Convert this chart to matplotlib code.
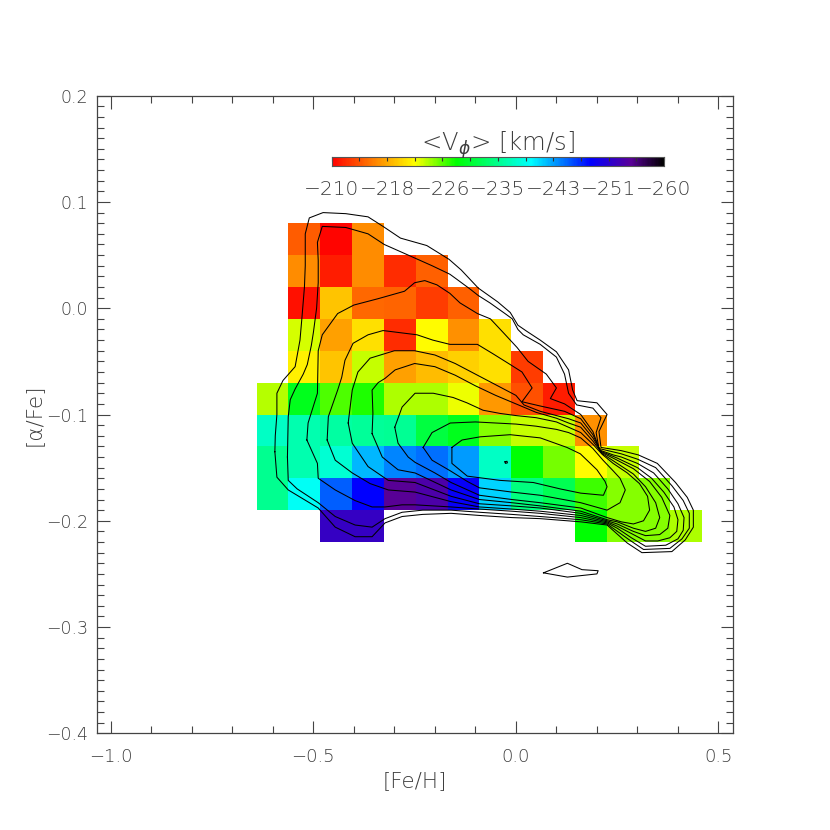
import numpy as np
import matplotlib
matplotlib.use("Agg")
import matplotlib.pyplot as plt
from matplotlib.colors import LinearSegmentedColormap, Normalize
from matplotlib.ticker import MultipleLocator, FuncFormatter

# ---------------- data ----------------
feh_edges = np.linspace(-0.64, 0.46, 15)      # [Fe/H] bin edges
afe_edges = np.linspace(-0.22, 0.08, 11)      # [alpha/Fe] bin edges
nan = np.nan
# mean V_phi per cell, rows listed from top ([a/Fe] 0.05..0.08) to bottom
vphi_rows = [
    [nan, -214.5, -210.3, -217.0, nan, nan, nan, nan, nan, nan, nan, nan, nan, nan],
    [nan, -217.0, -211.5, -217.0, -212.3, -214.7, nan, nan, nan, nan, nan, nan, nan, nan],
    [nan, -210.8, -219.7, -215.2, -215.0, -213.0, -214.7, nan, nan, nan, nan, nan, nan, nan],
    [nan, -223.6, -218.0, -221.0, -212.3, -222.5, -217.2, -221.0, nan, nan, nan, nan, nan, nan],
    [nan, -221.8, -219.7, -224.0, -218.0, -219.3, -220.3, -221.0, -213.0, nan, nan, nan, nan, nan],
    [-224.3, -230.0, -226.8, -228.0, -224.6, -224.5, -223.0, -217.5, -214.0, -211.5, nan, nan, nan, nan],
    [-237.5, -236.5, -235.8, -235.5, -235.2, -231.6, -230.0, -225.6, -224.0, -224.0, -217.2, nan, nan, nan],
    [-235.1, -236.5, -238.0, -242.5, -244.2, -245.0, -243.4, -237.5, -228.8, -226.0, -222.5, -224.0, nan, nan],
    [-235.1, -239.5, -245.6, -249.0, -255.0, -254.0, -249.3, -241.5, -234.4, -232.4, -227.2, -225.6, -225.6, nan],
    [nan, nan, -252.5, -252.5, nan, nan, nan, nan, nan, nan, -228.8, -225.6, -225.6, -224.6],
]

cbar_ticks = [-210, -218, -226, -235, -243, -251, -260]
cbar_labels = ["\u2212210", "\u2212218", "\u2212226", "\u2212235", "\u2212243", "\u2212251", "\u2212260"]

# star-density contour lines ([Fe/H], [a/Fe]), outermost first
contour_1 = [(-0.595, -0.135), (-0.594, -0.120), (-0.590, -0.100), (-0.590, -0.080), (-0.575, -0.068),
             (-0.545, -0.055), (-0.533, -0.030), (-0.528, -0.008), (-0.522, 0.020), (-0.520, 0.040),
             (-0.520, 0.070), (-0.510, 0.085), (-0.476, 0.090), (-0.420, 0.089), (-0.365, 0.086),
             (-0.328, 0.077), (-0.285, 0.066), (-0.220, 0.059), (-0.165, 0.046), (-0.135, 0.036),
             (-0.093, 0.019), (-0.045, 0.006), (-0.014, -0.004), (0.005, -0.016), (0.028, -0.022),
             (0.060, -0.030), (0.100, -0.041), (0.130, -0.058), (0.140, -0.077), (0.151, -0.087),
             (0.200, -0.089), (0.225, -0.100), (0.205, -0.116), (0.210, -0.131), (0.260, -0.134),
             (0.302, -0.138), (0.349, -0.146), (0.394, -0.164), (0.423, -0.178), (0.438, -0.190),
             (0.438, -0.206), (0.418, -0.218), (0.385, -0.229), (0.311, -0.230), (0.275, -0.221),
             (0.225, -0.204), (0.160, -0.201), (0.060, -0.198), (-0.010, -0.197), (-0.090, -0.195),
             (-0.160, -0.193), (-0.230, -0.194), (-0.281, -0.196), (-0.323, -0.202), (-0.355, -0.215),
             (-0.397, -0.215), (-0.446, -0.206), (-0.488, -0.188), (-0.562, -0.171), (-0.590, -0.159)]
contour_1_island = [(0.068, -0.249), (0.127, -0.240), (0.163, -0.246), (0.203, -0.247),
                    (0.200, -0.250), (0.127, -0.253)]
contour_2 = [(-0.564, -0.140), (-0.563, -0.120), (-0.562, -0.102), (-0.557, -0.086), (-0.545, -0.076),
             (-0.525, -0.062), (-0.515, -0.053), (-0.505, -0.035), (-0.500, -0.023), (-0.492, 0.000),
             (-0.488, 0.024), (-0.488, 0.045), (-0.490, 0.062), (-0.478, 0.077), (-0.420, 0.076),
             (-0.365, 0.070), (-0.325, 0.060), (-0.260, 0.049), (-0.207, 0.040), (-0.163, 0.032),
             (-0.145, 0.027), (-0.113, 0.018), (-0.093, 0.012), (-0.064, 0.005), (-0.027, -0.005),
             (-0.009, -0.010), (0.005, -0.020), (0.018, -0.025), (0.060, -0.034), (0.100, -0.046),
             (0.120, -0.062), (0.130, -0.080), (0.150, -0.091), (0.190, -0.094), (0.210, -0.103),
             (0.198, -0.117), (0.205, -0.132), (0.260, -0.137), (0.300, -0.142), (0.345, -0.150),
             (0.385, -0.167), (0.413, -0.181), (0.428, -0.193), (0.428, -0.207), (0.410, -0.217),
             (0.380, -0.226), (0.315, -0.227), (0.280, -0.218), (0.225, -0.203), (0.160, -0.199),
             (0.060, -0.196), (-0.010, -0.194), (-0.090, -0.192), (-0.160, -0.190), (-0.230, -0.190),
             (-0.281, -0.192), (-0.323, -0.198), (-0.355, -0.206), (-0.397, -0.204), (-0.446, -0.196),
             (-0.488, -0.183), (-0.540, -0.170), (-0.562, -0.162)]
contour_3 = [(-0.516, -0.124), (-0.513, -0.108), (-0.490, -0.080), (-0.488, -0.040), (-0.478, -0.025),
             (-0.440, -0.005), (-0.400, 0.003), (-0.340, 0.009), (-0.275, 0.016), (-0.250, 0.024),
             (-0.225, 0.026), (-0.195, 0.022), (-0.163, 0.014), (-0.138, 0.005), (-0.095, -0.005),
             (-0.063, -0.010), (-0.031, -0.023), (0.003, -0.037), (0.030, -0.050), (0.075, -0.062),
             (0.100, -0.075), (0.085, -0.085), (0.120, -0.090), (0.160, -0.100), (0.190, -0.116),
             (0.207, -0.1335), (0.240, -0.138), (0.260, -0.140), (0.300, -0.146), (0.340, -0.155),
             (0.375, -0.170), (0.400, -0.184), (0.415, -0.197), (0.413, -0.209), (0.400, -0.217),
             (0.370, -0.223), (0.320, -0.224), (0.285, -0.216), (0.250, -0.207), (0.225, -0.202),
             (0.160, -0.197), (0.060, -0.193), (-0.010, -0.191), (-0.090, -0.189), (-0.160, -0.187),
             (-0.249, -0.185), (-0.281, -0.185), (-0.323, -0.187), (-0.355, -0.187), (-0.397, -0.181),
             (-0.446, -0.171), (-0.488, -0.160), (-0.490, -0.146)]
contour_4 = [(-0.466, -0.124), (-0.463, -0.102), (-0.440, -0.077), (-0.430, -0.065), (-0.422, -0.049),
             (-0.402, -0.033), (-0.365, -0.025), (-0.328, -0.021), (-0.286, -0.023), (-0.244, -0.025),
             (-0.205, -0.030), (-0.163, -0.034), (-0.095, -0.034), (-0.056, -0.043), (-0.014, -0.053),
             (0.015, -0.060), (0.040, -0.075), (0.015, -0.088), (0.060, -0.092), (0.120, -0.097),
             (0.160, -0.104), (0.190, -0.119), (0.209, -0.1345), (0.250, -0.141), (0.300, -0.150),
             (0.335, -0.160), (0.365, -0.173), (0.390, -0.187), (0.400, -0.199), (0.397, -0.210),
             (0.380, -0.216), (0.350, -0.219), (0.320, -0.219), (0.290, -0.213), (0.250, -0.205),
             (0.225, -0.201), (0.160, -0.195), (0.060, -0.191), (-0.010, -0.189), (-0.090, -0.187),
             (-0.160, -0.182), (-0.249, -0.173), (-0.315, -0.171), (-0.360, -0.165), (-0.404, -0.155),
             (-0.446, -0.143)]
contour_5 = [(-0.414, -0.108), (-0.404, -0.077), (-0.390, -0.060), (-0.360, -0.047), (-0.300, -0.040),
             (-0.250, -0.040), (-0.200, -0.044), (-0.150, -0.052), (-0.100, -0.062), (-0.050, -0.072),
             (0.000, -0.082), (0.020, -0.091), (0.060, -0.097), (0.100, -0.101), (0.130, -0.104),
             (0.160, -0.108), (0.190, -0.122), (0.211, -0.1355), (0.250, -0.143), (0.290, -0.151),
             (0.330, -0.163), (0.360, -0.178), (0.380, -0.195), (0.375, -0.207), (0.355, -0.213),
             (0.320, -0.214), (0.290, -0.210), (0.250, -0.203), (0.225, -0.200), (0.160, -0.193),
             (0.060, -0.188), (-0.010, -0.186), (-0.090, -0.184), (-0.160, -0.177), (-0.249, -0.164),
             (-0.315, -0.162), (-0.365, -0.149), (-0.404, -0.127)]
contour_6 = [(-0.355, -0.118), (-0.353, -0.099), (-0.355, -0.077), (-0.340, -0.070), (-0.323, -0.066),
             (-0.298, -0.058), (-0.250, -0.052), (-0.200, -0.055), (-0.150, -0.063), (-0.100, -0.073),
             (-0.050, -0.082), (0.000, -0.090), (0.050, -0.098), (0.100, -0.1035), (0.130, -0.108),
             (0.160, -0.112), (0.190, -0.125), (0.212, -0.1365), (0.250, -0.146), (0.290, -0.156),
             (0.320, -0.168), (0.345, -0.183), (0.355, -0.197), (0.345, -0.207), (0.320, -0.210),
             (0.290, -0.207), (0.250, -0.201), (0.225, -0.199), (0.160, -0.191), (0.060, -0.186),
             (-0.010, -0.183), (-0.090, -0.180), (-0.160, -0.171), (-0.249, -0.155), (-0.291, -0.152),
             (-0.330, -0.140)]
contour_7 = [(-0.299, -0.112), (-0.281, -0.093), (-0.249, -0.080), (-0.204, -0.080), (-0.155, -0.084),
             (-0.121, -0.089), (-0.081, -0.096), (-0.039, -0.099), (0.000, -0.101), (0.050, -0.103),
             (0.100, -0.107), (0.130, -0.112), (0.160, -0.117), (0.190, -0.128), (0.213, -0.1375),
             (0.240, -0.146), (0.275, -0.155), (0.305, -0.165), (0.325, -0.177), (0.330, -0.190),
             (0.315, -0.200), (0.290, -0.203), (0.260, -0.201), (0.225, -0.197), (0.160, -0.188),
             (0.060, -0.183), (-0.010, -0.180), (-0.090, -0.176), (-0.160, -0.164), (-0.200, -0.155),
             (-0.249, -0.145), (-0.266, -0.140), (-0.291, -0.127)]
contour_8 = [(-0.229, -0.131), (-0.207, -0.117), (-0.162, -0.108), (-0.100, -0.107), (0.000, -0.109),
             (0.050, -0.111), (0.100, -0.114), (0.130, -0.117), (0.160, -0.122), (0.190, -0.132),
             (0.215, -0.143), (0.240, -0.153), (0.257, -0.160), (0.270, -0.171), (0.257, -0.183),
             (0.225, -0.190), (0.160, -0.183), (0.060, -0.176), (-0.010, -0.173), (-0.090, -0.169),
             (-0.120, -0.163), (-0.162, -0.153), (-0.207, -0.143)]
contour_9 = [(-0.158, -0.131), (-0.133, -0.124), (-0.088, -0.121), (-0.014, -0.119), (0.060, -0.122),
             (0.126, -0.131), (0.159, -0.137), (0.200, -0.152), (0.220, -0.163), (0.225, -0.168),
             (0.216, -0.176), (0.160, -0.174), (0.109, -0.170), (0.043, -0.164), (-0.039, -0.162),
             (-0.120, -0.158), (-0.158, -0.146)]
contour_10 = [(-0.027, -0.1445), (-0.022, -0.1440), (-0.021, -0.1455), (-0.026, -0.1460)]

contours = [contour_1, contour_1_island, contour_2, contour_3, contour_4, contour_5,
            contour_6, contour_7, contour_8, contour_9, contour_10]

# ---------------- colour table (red -> yellow -> green -> cyan -> blue -> purple -> black) ----------------
cmap = LinearSegmentedColormap.from_list("vphi", [
    (0.000, (1.0, 0.0, 0.0)),
    (0.125, (1.0, 0.5, 0.0)),
    (0.250, (1.0, 1.0, 0.0)),
    (0.375, (0.0, 1.0, 0.0)),
    (0.600, (0.0, 1.0, 1.0)),
    (0.780, (0.0, 0.0, 1.0)),
    (0.900, (0.35, 0.0, 0.6)),
    (1.000, (0.0, 0.0, 0.0)),
]).reversed()
norm = Normalize(vmin=-260, vmax=-210)

TXT = "#3c3c3c"
FW = 200
FAM = ["DejaVu Sans", "Noto Sans", "Liberation Sans"]
plt.rcParams["font.family"] = FAM
plt.rcParams["font.weight"] = FW

fig = plt.figure(figsize=(8.3, 8.3), dpi=100)
ax = fig.add_axes([0.1169, 0.1165, 0.7663, 0.7682])

vphi = np.ma.masked_invalid(np.array(vphi_rows[::-1]))
ax.pcolormesh(feh_edges, afe_edges, vphi, cmap=cmap, norm=norm,
              shading="flat", antialiased=False, edgecolors="none", zorder=1)

for poly in contours:
    xs = [p[0] for p in poly] + [poly[0][0]]
    ys = [p[1] for p in poly] + [poly[0][1]]
    ax.plot(xs, ys, color="black", lw=0.75, zorder=3)

minus_fmt = FuncFormatter(lambda v, pos: ("%.1f" % v).replace("-", "\u2212") if abs(v) > 1e-9 else "0.0")

ax.set_xlim(-1.034, 0.536)
ax.set_ylim(-0.4, 0.2)
ax.xaxis.set_major_locator(MultipleLocator(0.5))
ax.xaxis.set_minor_locator(MultipleLocator(0.1))
ax.yaxis.set_major_locator(MultipleLocator(0.1))
ax.yaxis.set_minor_locator(MultipleLocator(0.01))
ax.xaxis.set_major_formatter(minus_fmt)
ax.yaxis.set_major_formatter(minus_fmt)
ax.tick_params(which="both", direction="in", top=True, right=True, colors="#444444",
               labelcolor=TXT, width=0.8)
ax.tick_params(which="major", length=9)
ax.tick_params(which="minor", length=4.7)
ax.tick_params(axis="x", which="major", labelsize=13, pad=10.5)
ax.tick_params(axis="y", which="major", labelsize=12.5, pad=6.5)
for s in ax.spines.values():
    s.set_color("#444444")
    s.set_linewidth(0.9)

fig.text(0.500, 0.059, "[Fe/H]", ha="center", va="center", fontsize=15.5, color=TXT,
         fontweight=FW, family=FAM)
fig.text(0.041, 0.500, "[\u03b1/Fe]", ha="center", va="center", fontsize=15.5, color=TXT,
         rotation=90, fontweight=FW, family=FAM)

# ---------------- colour bar ----------------
cax = fig.add_axes([0.3996, 0.8000, 0.4004, 0.0108])
cb_vals = np.linspace(-210, -260, 256)
cb_edges = np.linspace(-210, -260, 257)
cax.pcolormesh(cb_edges, [0, 1], cb_vals[None, :], cmap=cmap, norm=norm,
               shading="flat", antialiased=False)
cax.set_xlim(-210, -260)
cax.set_ylim(0, 1)
cax.set_yticks([])
cax.set_xticks(np.linspace(-210, -260, 7))
cax.set_xticklabels(cbar_labels)
cax.set_xticks(np.linspace(-210, -260, 13), minor=True)
cax.tick_params(axis="x", which="both", direction="in", top=True, bottom=False,
                labelbottom=True, labeltop=False, colors="#333333", labelcolor=TXT, width=0.8)
cax.tick_params(axis="x", which="major", length=3, labelsize=14.5, pad=10)
cax.tick_params(axis="x", which="minor", length=3)
for s in cax.spines.values():
    s.set_color("#555555")
    s.set_linewidth(0.8)

fig.text(0.5994, 0.818, r"<V$_{\phi}$> [km/s]", ha="center", va="baseline", fontsize=17.5,
         color=TXT, fontweight=FW, family=FAM)

fig.savefig("out.png", dpi=100)
